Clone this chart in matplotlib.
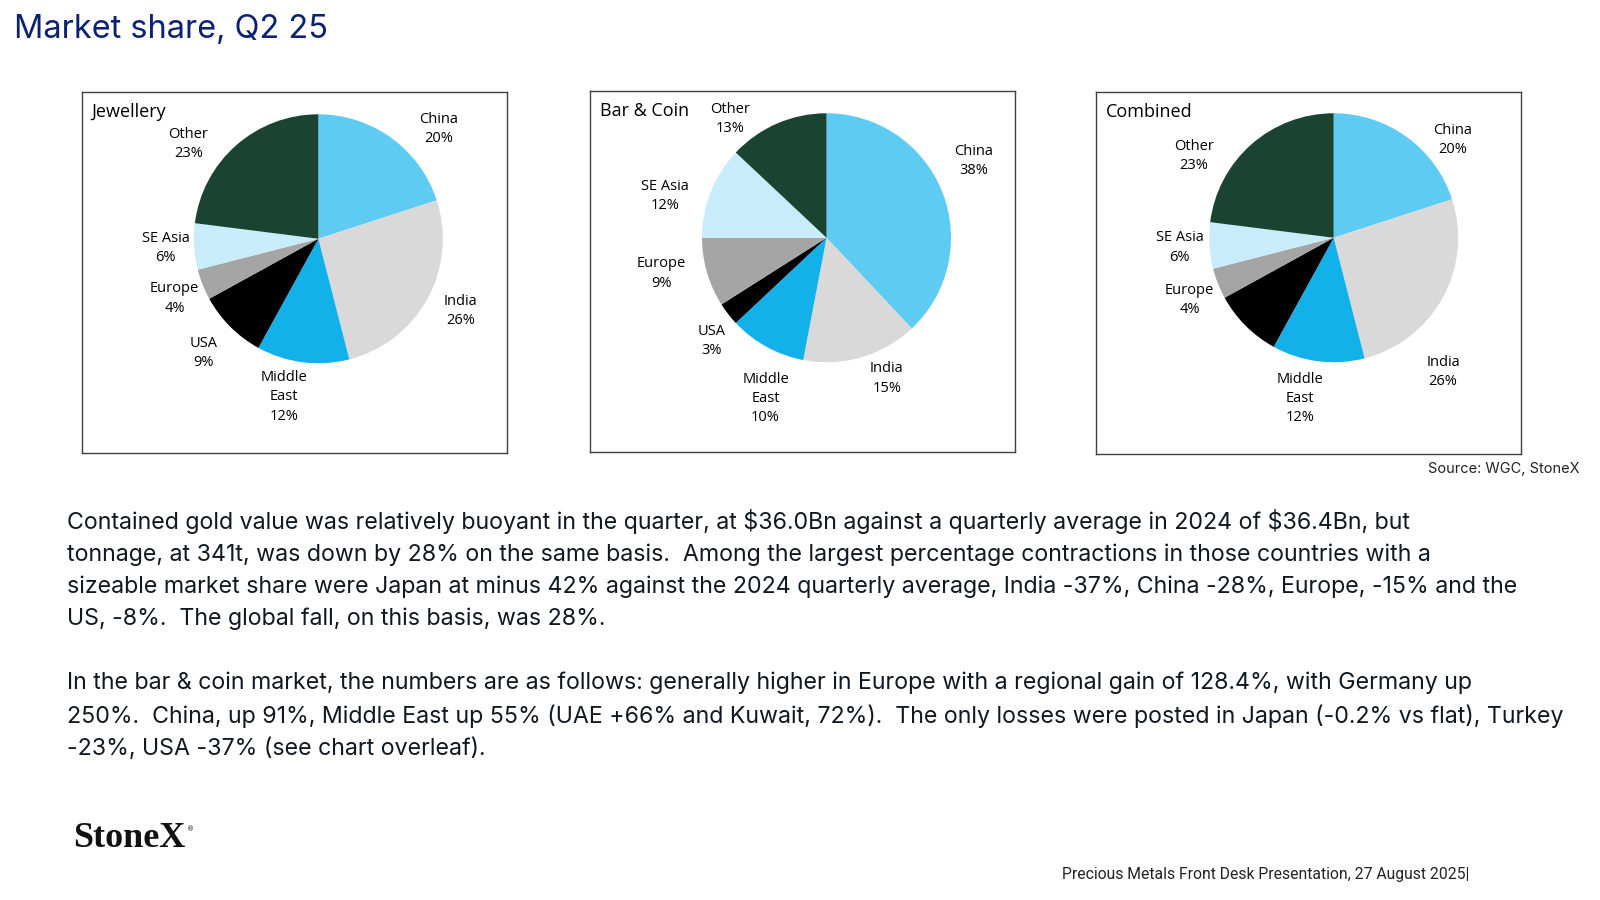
import matplotlib
matplotlib.use("Agg")
import matplotlib.pyplot as plt
import numpy as np

# data
regions = ["China", "India", "Middle\nEast", "USA", "Europe", "SE Asia", "Other"]
jewellery = [20, 26, 12, 9, 4, 6, 23]
bar_coin = [38, 15, 10, 3, 9, 12, 13]
combined = [20, 26, 12, 9, 4, 6, 23]
combined_hide = ["USA"]          # no data label shown for this slice
panel_titles = ["Jewellery", "Bar & Coin", "Combined"]

colors = ["#5ECBF3", "#D9D9D9", "#13B1E9", "#000000", "#A5A5A5", "#C8ECFA", "#1B4332"]

title = "Market share, Q2 25"
source = "Source: WGC, StoneX"
para1 = ("Contained gold value was relatively buoyant in the quarter, at \\$36.0Bn against a quarterly average in 2024 of \\$36.4Bn, but\n"
         "tonnage, at 341t, was down by 28% on the same basis.  Among the largest percentage contractions in those countries with a\n"
         "sizeable market share were Japan at minus 42% against the 2024 quarterly average, India -37%, China -28%, Europe, -15% and the\n"
         "US, -8%.  The global fall, on this basis, was 28%.")
para2 = ("In the bar & coin market, the numbers are as follows: generally higher in Europe with a regional gain of 128.4%, with Germany up\n"
         "250%.  China, up 91%, Middle East up 55% (UAE +66% and Kuwait, 72%).  The only losses were posted in Japan (-0.2% vs flat), Turkey\n"
         "-23%, USA -37% (see chart overleaf).")
footer = "Precious Metals Front Desk Presentation, 27 August 2025|"

# label placement (excel "best fit" look): angle nudge in degrees and distance in radii
label_nudge = [[-11.5, 2, -5, 0, 1, 0, 12.6],
               [6, 7, 8, 4, -4, 7, 15.6],
               [-14.6, -22, -4.6, 0, 1.8, 0, 18.3]]
label_dist = [[1.31, 1.28, 1.30, 1.30, 1.25, 1.23, 1.29],
              [1.33, 1.23, 1.38, 1.24, 1.36, 1.34, 1.23],
              [1.24, 1.39, 1.32, 1.30, 1.26, 1.24, 1.30]]

W, H = 1600, 900
S = 1600 / 1568   # layout measured on a 98% view
fig = plt.figure(figsize=(16, 9), dpi=100)
fig.patch.set_facecolor("white")

lab_font = ["Open Sans", "DejaVu Sans"]
txt_font = ["Inter", "DejaVu Sans"]

# box: left, top, right, bottom ; pie centre
boxes = [(80, 90, 497, 444, 312, 234),
         (578, 89, 995, 443, 810, 233),
         (1074, 90, 1491, 445, 1307, 233)]
R = 122 * S
series = [jewellery, bar_coin, combined]

for k, box in enumerate(boxes):
    l, t, r, b, cx, cy = [v * S for v in box]
    ax = fig.add_axes([l / W, 1 - b / H, (r - l) / W, (b - t) / H])
    vals = series[k]
    labs = []
    for name, v in zip(regions, vals):
        if k == 2 and name in combined_hide:
            labs.append("")
        else:
            labs.append(f"{name}\n{v}%")
    wedges, texts = ax.pie(vals, labels=labs, colors=colors, radius=R,
                           startangle=90, counterclock=False,
                           frame=True,
                           wedgeprops=dict(linewidth=0),
                           textprops=dict(fontsize=10.5, family=lab_font, color="#000000",
                                          linespacing=1.38))
    for i, (w, tx) in enumerate(zip(wedges, texts)):
        ang = np.deg2rad((w.theta1 + w.theta2) / 2 + label_nudge[k][i])
        d = R * label_dist[k][i]
        tx.set_position((d * np.cos(ang), d * np.sin(ang)))
        tx.set_ha("center")
        tx.set_va("center")
    ax.set_xlim(l - cx, r - cx)
    ax.set_ylim(cy - b, cy - t)
    ax.set_aspect("auto")
    ax.set_xticks([])
    ax.set_yticks([])
    for s in ax.spines.values():
        s.set_color("#404040")
        s.set_linewidth(1.0)
    ax.text(0.024, 0.943, panel_titles[k], transform=ax.transAxes, fontsize=13,
            family=lab_font, ha="left", va="center", color="#000000")

fig.text(14 * S / W, 1 - 29 * S / H, title, fontsize=23.4, family=txt_font, color="#0C2271",
         ha="left", va="center")
fig.text(1548 * S / W, 1 - 460 * S / H, source, fontsize=10.5, family=txt_font, color="#222222",
         ha="right", va="center")
fig.text(66 * S / W, 1 - 498.5 * S / H, para1, fontsize=16.7, family=txt_font, color="#101820",
         ha="left", va="top", linespacing=1.55)
fig.text(66 * S / W, 1 - 658 * S / H, para2, fontsize=16.7, family=txt_font, color="#101820",
         ha="left", va="top", linespacing=1.55)

logo = fig.text(72 * S / W, 1 - 822 * S / H, "StoneX", fontsize=26,
                family=["Liberation Serif", "DejaVu Serif"],
                weight="bold", color="#111111", ha="left", va="center")
bb = logo.get_window_extent(renderer=fig.canvas.get_renderer())
fig.text(bb.x1 / W + 0.001, 1 - 813 * S / H, "\u00ae", fontsize=5, family=["DejaVu Sans"],
         color="#111111", ha="left", va="center")
fig.text(1440 * S / W, 1 - 857 * S / H, footer, fontsize=11.3, family=["Roboto", "DejaVu Sans"],
         color="#222222", ha="right", va="center")

fig.savefig("out.png", dpi=100, facecolor="white")
